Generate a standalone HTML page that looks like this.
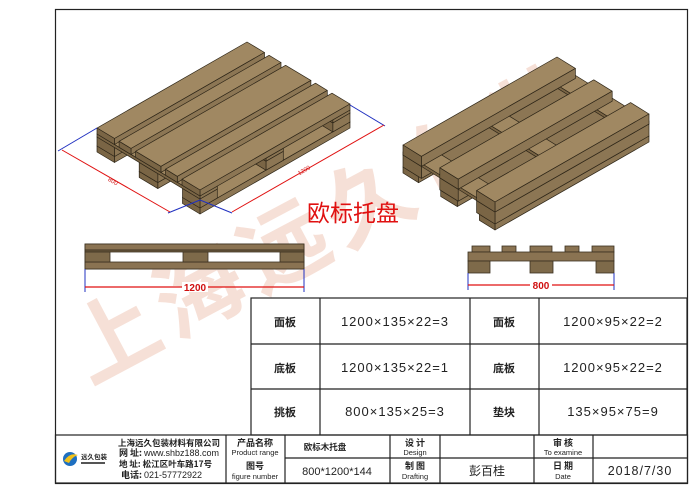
<!DOCTYPE html>
<html><head><meta charset="utf-8">
<style>
html,body{margin:0;padding:0;background:#fff;}
body{width:699px;height:494px;position:relative;overflow:hidden;font-family:"Liberation Sans","Noto Sans CJK SC",sans-serif;}
svg{position:absolute;left:0;top:0;}
</style></head><body>
<svg id="s" width="699" height="494" viewBox="0 0 699 494" xmlns="http://www.w3.org/2000/svg" font-family="Liberation Sans, Noto Sans CJK SC, sans-serif">
<!-- watermark -->
<g fill="#eec2b0" opacity="0.5" font-family="Noto Sans CJK SC, sans-serif" font-weight="bold">
<text x="0" y="0" font-size="88" transform="translate(90,385) rotate(-28)" letter-spacing="8">上海远久包装</text>
</g>
<!-- frame -->
<rect x="55.5" y="9.5" width="632" height="474" fill="none" stroke="#222" stroke-width="1.2"/>
<g id="pal"></g>
<!-- title -->
<text x="307" y="221" font-size="23" fill="#e01010" font-family="Noto Sans CJK SC, sans-serif">欧标托盘</text>

<!-- side view left -->
<g stroke="#3a3020" stroke-width="0.8">
<rect x="85" y="244" width="219" height="25" fill="#fff"/>
<rect x="85" y="244" width="219" height="6" fill="#8a7352"/>
<rect x="85" y="250" width="219" height="2" fill="#6c5a3e"/>
<rect x="85" y="262" width="219" height="7" fill="#8a7352"/>
<rect x="85" y="252" width="25" height="10" fill="#7e6a4a"/>
<rect x="183" y="252" width="25" height="10" fill="#7e6a4a"/>
<rect x="280" y="252" width="24" height="10" fill="#7e6a4a"/>
</g>
<line x1="85" y1="269" x2="85" y2="292" stroke="#2030c0" stroke-width="1"/>
<line x1="304" y1="269" x2="304" y2="292" stroke="#2030c0" stroke-width="1"/>
<line x1="85" y1="287" x2="304" y2="287" stroke="#e01010" stroke-width="1.2"/>
<rect x="182" y="282" width="26" height="10" fill="#fff"/>
<text x="195" y="291" font-size="10" font-weight="bold" fill="#d01010" text-anchor="middle">1200</text>

<!-- side view right -->
<g stroke="#3a3020" stroke-width="0.8">
<rect x="472" y="246" width="18" height="6" fill="#8a7352"/>
<rect x="502" y="246" width="14" height="6" fill="#8a7352"/>
<rect x="530" y="246" width="22" height="6" fill="#8a7352"/>
<rect x="565" y="246" width="14" height="6" fill="#8a7352"/>
<rect x="592" y="246" width="22" height="6" fill="#8a7352"/>
<rect x="468" y="252" width="146" height="9" fill="#8a7352"/>
<rect x="468" y="261" width="22" height="12" fill="#7e6a4a"/>
<rect x="530" y="261" width="23" height="12" fill="#7e6a4a"/>
<rect x="596" y="261" width="18" height="12" fill="#7e6a4a"/>
</g>
<line x1="468" y1="273" x2="468" y2="290" stroke="#2030c0" stroke-width="1"/>
<line x1="614" y1="273" x2="614" y2="290" stroke="#2030c0" stroke-width="1"/>
<line x1="468" y1="285" x2="614" y2="285" stroke="#e01010" stroke-width="1.2"/>
<rect x="530" y="280" width="22" height="10" fill="#fff"/>
<text x="541" y="289" font-size="10" font-weight="bold" fill="#d01010" text-anchor="middle">800</text>

<!-- spec table -->
<g stroke="#222" stroke-width="1.2" fill="none">
<rect x="251" y="298" width="436" height="137"/>
<line x1="251" y1="344" x2="687" y2="344"/>
<line x1="251" y1="389" x2="687" y2="389"/>
<line x1="320" y1="298" x2="320" y2="435"/>
<line x1="470" y1="298" x2="470" y2="435"/>
<line x1="539" y1="298" x2="539" y2="435"/>
</g>
<g font-size="13" fill="#222" text-anchor="middle">
<text x="285" y="326" font-size="11" font-weight="bold" font-family="Noto Sans CJK SC, sans-serif">面板</text>
<text x="285" y="372" font-size="11" font-weight="bold" font-family="Noto Sans CJK SC, sans-serif">底板</text>
<text x="285" y="416" font-size="11" font-weight="bold" font-family="Noto Sans CJK SC, sans-serif">挑板</text>
<text x="504" y="326" font-size="11" font-weight="bold" font-family="Noto Sans CJK SC, sans-serif">面板</text>
<text x="504" y="372" font-size="11" font-weight="bold" font-family="Noto Sans CJK SC, sans-serif">底板</text>
<text x="504" y="416" font-size="11" font-weight="bold" font-family="Noto Sans CJK SC, sans-serif">垫块</text>
<text x="395" y="326" letter-spacing="1">1200×135×22=3</text>
<text x="395" y="372" letter-spacing="1">1200×135×22=1</text>
<text x="395" y="416" letter-spacing="1">800×135×25=3</text>
<text x="613" y="326" letter-spacing="1">1200×95×22=2</text>
<text x="613" y="372" letter-spacing="1">1200×95×22=2</text>
<text x="613" y="416" letter-spacing="1">135×95×75=9</text>
</g>

<!-- title block -->
<g stroke="#222" stroke-width="1.2" fill="none">
<rect x="55.5" y="435" width="632" height="48"/>
<line x1="285" y1="458" x2="687" y2="458"/>
<line x1="226" y1="435" x2="226" y2="483"/>
<line x1="285" y1="435" x2="285" y2="483"/>
<line x1="390" y1="435" x2="390" y2="483"/>
<line x1="440" y1="435" x2="440" y2="483"/>
<line x1="534" y1="435" x2="534" y2="483"/>
<line x1="593" y1="435" x2="593" y2="483"/>
</g>
<g fill="#222" text-anchor="middle">
<text x="255" y="446" font-size="9" font-weight="bold" font-family="Noto Sans CJK SC, sans-serif">产品名称</text>
<text x="255" y="455" font-size="7.5">Product range</text>
<text x="255" y="469" font-size="9" font-weight="bold" font-family="Noto Sans CJK SC, sans-serif">图号</text>
<text x="255" y="479" font-size="7.5">figure number</text>
<text x="325" y="450" font-size="8.5" font-weight="bold" font-family="Noto Sans CJK SC, sans-serif">欧标木托盘</text>
<text x="337" y="475" font-size="11">800*1200*144</text>
<text x="415" y="446" font-size="9" font-weight="bold" font-family="Noto Sans CJK SC, sans-serif">设 计</text>
<text x="415" y="455" font-size="7.5">Design</text>
<text x="415" y="469" font-size="9" font-weight="bold" font-family="Noto Sans CJK SC, sans-serif">制 图</text>
<text x="415" y="479" font-size="7.5">Drafting</text>
<text x="487" y="475" font-size="12" font-family="Noto Sans CJK SC, sans-serif">彭百桂</text>
<text x="563" y="446" font-size="9" font-weight="bold" font-family="Noto Sans CJK SC, sans-serif">审 核</text>
<text x="563" y="455" font-size="7.5">To examine</text>
<text x="563" y="469" font-size="9" font-weight="bold" font-family="Noto Sans CJK SC, sans-serif">日 期</text>
<text x="563" y="479" font-size="7.5">Date</text>
<text x="640" y="475" font-size="12.5" letter-spacing="1">2018/7/30</text>
</g>
<g fill="#222" font-size="9">
<text x="118" y="446" font-weight="bold" font-size="8.5" font-family="Noto Sans CJK SC, sans-serif">上海远久包装材料有限公司</text>
<text x="119" y="456" font-weight="bold" font-family="Noto Sans CJK SC, sans-serif">网 址: <tspan font-family="Liberation Sans" font-weight="normal">www.shbz188.com</tspan></text>
<text x="119" y="467" font-weight="bold" font-size="8.5" font-family="Noto Sans CJK SC, sans-serif">地 址: 松江区叶车路17号</text>
<text x="121" y="478" font-weight="bold" font-family="Noto Sans CJK SC, sans-serif">电话: <tspan font-family="Liberation Sans" font-weight="normal">021-57772922</tspan></text>
</g>
<circle cx="70" cy="459" r="7" fill="#1e6fc0"/>
<path d="M64 461 Q70 452 78 455 Q72 457 69 463Z" fill="#f2c21a"/>
<text x="81" y="459" font-size="6.5" font-weight="bold" fill="#222" font-family="Noto Sans CJK SC, sans-serif">远久包装</text>
<rect x="81" y="462" width="24" height="2" fill="#555"/>

<!-- dimension lines iso left -->
<g stroke-width="1" fill="none">
<line x1="97" y1="128" x2="58" y2="151" stroke="#2030c0"/>
<line x1="200" y1="200" x2="168" y2="213" stroke="#2030c0"/>
<line x1="200" y1="200" x2="232" y2="213" stroke="#2030c0"/>
<line x1="350" y1="105" x2="385" y2="126" stroke="#2030c0"/>
<line x1="62" y1="150" x2="170" y2="212" stroke="#e01010"/>
<line x1="232" y1="212" x2="384" y2="125" stroke="#e01010"/>
</g>
<text font-size="6" fill="#d01010" transform="translate(112,183) rotate(30)" text-anchor="middle">800</text>
<text font-size="6" fill="#d01010" transform="translate(305,172) rotate(-30)" text-anchor="middle">1200</text>
</svg>
<script>
(function(){
var g=document.getElementById('pal');var ns='http://www.w3.org/2000/svg';
function P(pts,fill,sw){var e=document.createElementNS(ns,'polygon');e.setAttribute('points',pts.map(function(p){return p[0].toFixed(1)+','+p[1].toFixed(1)}).join(' '));e.setAttribute('fill',fill);e.setAttribute('stroke','#2e2618');e.setAttribute('stroke-width',sw||0.7);e.setAttribute('stroke-linejoin','round');g.appendChild(e);}
function pt(O,L,W,l,w,h){return [O[0]+L[0]*l+W[0]*w,O[1]+L[1]*l+W[1]*w+h];}
function box(O,L,W,l0,l1,w0,w1,h0,h1,ct,cs,cf){
 P([pt(O,L,W,l0,w0,h0),pt(O,L,W,l1,w0,h0),pt(O,L,W,l1,w1,h0),pt(O,L,W,l0,w1,h0)],ct);
 P([pt(O,L,W,l0,w1,h0),pt(O,L,W,l1,w1,h0),pt(O,L,W,l1,w1,h1),pt(O,L,W,l0,w1,h1)],cf);
 P([pt(O,L,W,l0,w0,h0),pt(O,L,W,l0,w1,h0),pt(O,L,W,l0,w1,h1),pt(O,L,W,l0,w0,h1)],cs);
}
var T='#a08862',S='#7a6545',F='#8c7654';
var O=[97,128],L=[150,-86],W=[103,62];
[[0,.17],[.41,.59],[.83,1]].forEach(function(b){box(O,L,W,0,1,b[0],b[1],18,24,T,S,F);});
[0,.44,.885].forEach(function(l){[[0,.17],[.41,.59],[.83,1]].forEach(function(b){box(O,L,W,l,l+.115,b[0],b[1],9,18,T,S,F);});});
[0,.44,.885].forEach(function(l){box(O,L,W,l,l+.115,0,1,6,9,T,S,F);});
[[0,.17],[.215,.33],[.375,.62],[.665,.78],[.825,1]].forEach(function(b){box(O,L,W,0,1,b[0],b[1],0,6,T,S,F);});
var O2=[403,145],L2=[154,-88],W2=[92,57];
[[0,.17],[.41,.59],[.83,1]].forEach(function(b){box(O2,L2,W2,0,1,b[0],b[1],22,28,T,S,F);});
[[0,.2],[.4,.6],[.8,1]].forEach(function(b){box(O2,L2,W2,0,1,b[0],b[1],10,22,'#9a8360',S,F);});
[0,.44,.885].forEach(function(l){box(O2,L2,W2,l,l+.115,0,1,7,10,T,S,F);});
[[0,.2],[.4,.6],[.8,1]].forEach(function(b){box(O2,L2,W2,0,1,b[0],b[1],0,10,T,S,F);});
})();
</script>
</body></html>
